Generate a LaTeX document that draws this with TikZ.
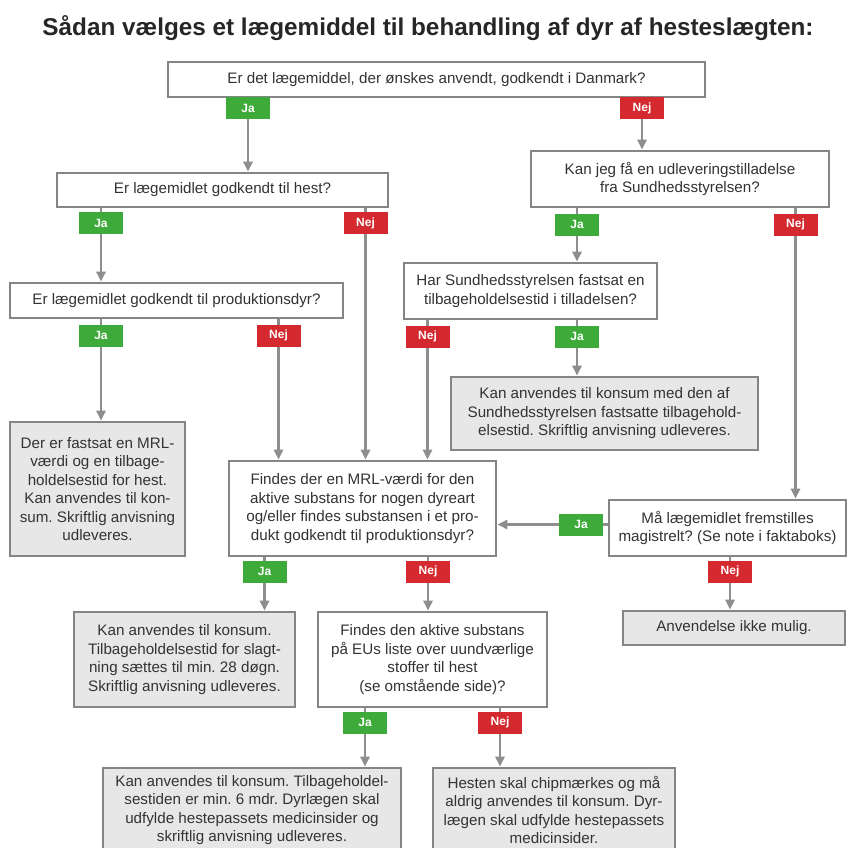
\documentclass[tikz,border=0pt]{standalone}
\usepackage{fontspec}
\setmainfont{Liberation Sans}
\usetikzlibrary{arrows.meta}
\frenchspacing
\pgfdeclarelayer{background}
\pgfsetlayers{background,main}
\definecolor{bordergray}{HTML}{858585}
\definecolor{linegray}{HTML}{8E8E8E}
\definecolor{fillgray}{HTML}{E7E7E7}
\definecolor{txtgray}{HTML}{333333}
\definecolor{jagreen}{HTML}{3DAA3A}
\definecolor{nejred}{HTML}{D42A2F}
\tikzset{
  qbox/.style={draw=bordergray, line width=2.6pt, fill=white, rectangle, inner sep=0pt, align=center, text=txtgray, font=\fontsize{15.2}{18.5}\selectfont},
  rbox/.style={qbox, fill=fillgray},
  jabox/.style={fill=jagreen, text=white, font=\bfseries\fontsize{12}{12}\selectfont, minimum width=44pt, minimum height=22pt, inner sep=0pt},
  nejbox/.style={jabox, fill=nejred},
  conn/.style={draw=linegray, line width=2.8pt, -{Triangle[length=10pt, width=9pt]}}
}
\begin{document}
\begin{tikzpicture}[x=1pt, y=-1pt]
\useasboundingbox (0,0) rectangle (849,847);
% title
\node[font=\bfseries\fontsize{24.3}{28}\selectfont, text=black!85] (title) at (428,28) {Sådan vælges et lægemiddel til behandling af dyr af hesteslægten:};
% question and result boxes
\node[qbox, minimum width=537pt, minimum height=35pt] (q0) at (436.5,79.5) {Er det lægemiddel, der ønskes anvendt, godkendt i Danmark?};
\node[qbox, minimum width=331pt, minimum height=34pt] (q1) at (222.5,190) {Er lægemidlet godkendt til hest?};
\node[qbox, minimum width=333pt, minimum height=35pt] (q2) at (176.5,300.5) {Er lægemidlet godkendt til produktionsdyr?};
\node[rbox, minimum width=175pt, minimum height=134pt] (r1) at (97.5,489) {Der er fastsat en MRL-\\værdi og en tilbage-\\holdelsestid for hest.\\Kan anvendes til kon-\\sum. Skriftlig anvisning\\udleveres.};
\node[qbox, minimum width=298pt, minimum height=56pt] (q3) at (680,179) {Kan jeg få en udleveringstilladelse\\fra Sundhedsstyrelsen?};
\node[qbox, minimum width=253pt, minimum height=56pt] (q4) at (530.5,291) {Har Sundhedsstyrelsen fastsat en\\tilbageholdelsestid i tilladelsen?};
\node[rbox, minimum width=307pt, minimum height=73pt] (r2) at (604.5,413.5) {Kan anvendes til konsum med den af\\Sundhedsstyrelsen fastsatte tilbagehold-\\elsestid. Skriftlig anvisning udleveres.};
\node[qbox, minimum width=267pt, minimum height=95pt] (q5) at (362.5,508.5) {Findes der en MRL-værdi for den\\aktive substans for nogen dyreart\\og/eller findes substansen i et pro-\\dukt godkendt til produktionsdyr?};
\node[qbox, minimum width=237pt, minimum height=56pt] (q6) at (727.5,528) {Må lægemidlet fremstilles\\magistrelt? (Se note i faktaboks)};
\node[rbox, minimum width=222pt, minimum height=34pt] (r3) at (734,628) {Anvendelse ikke mulig.};
\node[rbox, minimum width=221pt, minimum height=95pt] (r4) at (184.5,659.5) {Kan anvendes til konsum.\\Tilbageholdelsestid for slagt-\\ning sættes til min. 28 døgn.\\Skriftlig anvisning udleveres.};
\node[qbox, minimum width=229pt, minimum height=95pt] (q7) at (432.5,659.5) {Findes den aktive substans\\på EUs liste over uundværlige\\stoffer til hest\\(se omstående side)?};
\node[rbox, minimum width=298pt, minimum height=84pt] (r5) at (252,810) {Kan anvendes til konsum. Tilbageholdel-\\sestiden er min. 6 mdr. Dyrlægen skal\\udfylde hestepassets medicinsider og\\skriftlig anvisning udleveres.};
\node[rbox, minimum width=242pt, minimum height=84pt] (r6) at (554,810) {Hesten skal chipmærkes og må\\aldrig anvendes til konsum. Dyr-\\lægen skal udfylde hestepassets\\medicinsider.};
% answer labels
\node[jabox] (ja0) at (248,108) {Ja};
\node[nejbox] (nej0) at (642,108) {Nej};
\node[jabox] (ja1) at (101,223) {Ja};
\node[nejbox] (nej1) at (365.5,223) {Nej};
\node[jabox] (ja2) at (101,335.5) {Ja};
\node[nejbox] (nej2) at (278.5,335.5) {Nej};
\node[jabox] (ja3) at (577,224.5) {Ja};
\node[nejbox] (nej3) at (795.5,224.5) {Nej};
\node[nejbox] (nej4) at (427.5,336.5) {Nej};
\node[jabox] (ja4) at (577,336.5) {Ja};
\node[jabox] (ja5) at (581,524.5) {Ja};
\node[nejbox] (nej6) at (730,571.5) {Nej};
\node[jabox] (ja7) at (264.5,571.5) {Ja};
\node[nejbox] (nej7) at (428,571.5) {Nej};
\node[jabox] (ja8) at (365,722.5) {Ja};
\node[nejbox] (nej8) at (500,722.5) {Nej};
% connectors
\begin{pgfonlayer}{background}
\draw[conn] (q0.south -| ja0) -- (q1.north -| ja0);
\draw[conn] (q0.south -| nej0) -- (q3.north -| nej0);
\draw[conn] (q1.south -| ja1) -- (q2.north -| ja1);
\draw[conn] (q1.south -| nej1) -- (q5.north -| nej1);
\draw[conn] (q2.south -| ja2) -- (r1.north -| ja2);
\draw[conn] (q2.south -| nej2) -- (q5.north -| nej2);
\draw[conn] (q3.south -| ja3) -- (q4.north -| ja3);
\draw[conn] (q3.south -| nej3) -- (q6.north -| nej3);
\draw[conn] (q4.south -| nej4) -- (q5.north -| nej4);
\draw[conn] (q4.south -| ja4) -- (r2.north -| ja4);
\draw[conn] (q6.west |- ja5) -- (q5.east |- ja5);
\draw[conn] (q6.south -| nej6) -- (r3.north -| nej6);
\draw[conn] (q5.south -| ja7) -- (r4.north -| ja7);
\draw[conn] (q5.south -| nej7) -- (q7.north -| nej7);
\draw[conn] (q7.south -| ja8) -- (r5.north -| ja8);
\draw[conn] (q7.south -| nej8) -- (r6.north -| nej8);
\end{pgfonlayer}
\end{tikzpicture}
\end{document}
